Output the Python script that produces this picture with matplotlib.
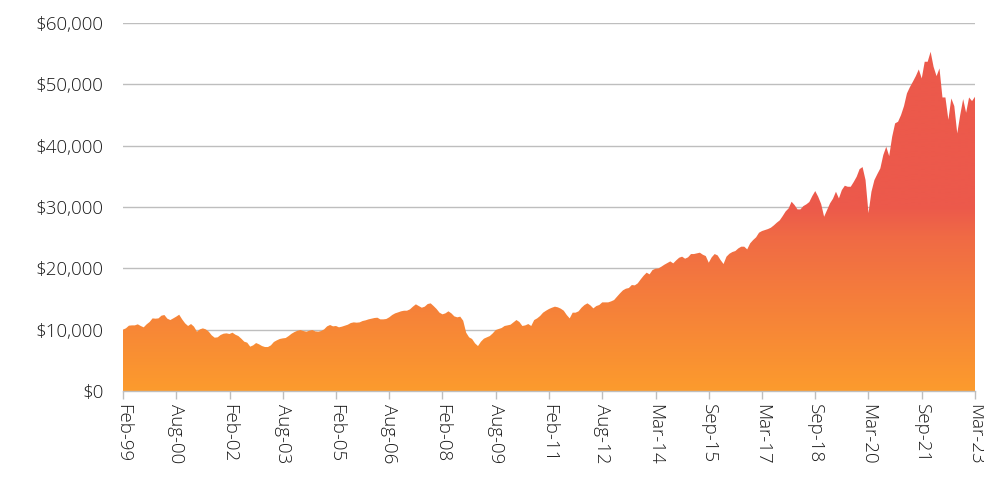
import numpy as np
import matplotlib
matplotlib.use("Agg")
import matplotlib.pyplot as plt
from matplotlib.colors import LinearSegmentedColormap

# ---- data (growth of $10,000, monthly, 289 points) ----
values = [
    10000, 10220, 10650, 10700, 10700, 10870, 10600, 10380, 10870, 11250,
    11840, 11790, 11840, 12280, 12390, 11790, 11570, 11840, 12120, 12440,
    11680, 11030, 10600, 10920, 10490, 9670, 10050, 10210, 10050, 9670,
    9070, 8690, 8750, 9130, 9340, 9400, 9290, 9510, 9180, 8960,
    8530, 8040, 7880, 7230, 7440, 7820, 7610, 7330, 7170, 7170,
    7440, 7990, 8260, 8480, 8580, 8640, 8960, 9340, 9620, 9830,
    9940, 9780, 9670, 9830, 9940, 9720, 9670, 9780, 10050, 10540,
    10760, 10540, 10600, 10380, 10490, 10650, 10810, 11080, 11190, 11140,
    11190, 11410, 11520, 11680, 11790, 11900, 11950, 11680, 11680, 11740,
    12010, 12390, 12660, 12820, 12990, 13090, 13090, 13310, 13750, 14130,
    13850, 13580, 13750, 14180, 14290, 13850, 13370, 12770, 12500, 12660,
    12990, 12660, 12170, 12010, 12120, 11460, 9510, 8750, 8480, 7770,
    7330, 8040, 8530, 8750, 8960, 9400, 9940, 10110, 10270, 10600,
    10700, 10810, 11190, 11570, 11250, 10600, 10700, 10920, 10600, 11570,
    11840, 12230, 12770, 13090, 13370, 13580, 13750, 13640, 13420, 13090,
    12390, 11840, 12770, 12770, 12990, 13580, 14020, 14290, 13960, 13470,
    13850, 14020, 14450, 14450, 14450, 14610, 14830, 15380, 15920, 16410,
    16680, 16790, 17280, 17220, 17550, 18200, 18800, 19290, 19020, 19720,
    19940, 19990, 20270, 20590, 20860, 21130, 20810, 21300, 21730, 21900,
    21570, 21790, 22330, 22330, 22440, 22550, 22220, 22000, 20920, 21790,
    22330, 22110, 21350, 20700, 21900, 22380, 22660, 22820, 23250, 23530,
    23530, 23090, 24070, 24610, 25050, 25810, 26080, 26240, 26400, 26620,
    27000, 27440, 27820, 28520, 29280, 29770, 30860, 30320, 29610, 29610,
    30150, 30430, 30810, 31780, 32600, 31670, 30480, 28410, 29500, 30590,
    31350, 32490, 31400, 32760, 33470, 33300, 33300, 34070, 34930, 36180,
    36510, 34390, 29000, 32490, 34390, 35370, 36290, 38470, 39820, 38300,
    41450, 43630, 43900, 44990, 46450, 48520, 49550, 50420, 51340, 52430,
    50960, 53680, 53680, 55310, 52860, 51340, 52590, 47860, 47860, 44230,
    47700, 46450, 42000, 44990, 47590, 45370, 47860, 47270, 47970,
]

tick_labels = ["Feb-99", "Aug-00", "Feb-02", "Aug-03", "Feb-05", "Aug-06",
               "Feb-08", "Aug-09", "Feb-11", "Aug-12", "Mar-14", "Sep-15",
               "Mar-17", "Sep-18", "Mar-20", "Sep-21", "Mar-23"]
tick_step = 18
y_ticks = [0, 10000, 20000, 30000, 40000, 50000, 60000]

# ---- figure ----
plt.rcParams['font.family'] = ['Open Sans', 'DejaVu Sans']
plt.rcParams['font.weight'] = 'light'
fig = plt.figure(figsize=(9.84, 4.82), dpi=100)
ax = fig.add_axes([123 / 984, 1 - 391 / 482, (975 - 123) / 984, (391 - 23) / 482])

x = np.arange(len(values))
y = np.array(values, dtype=float)

poly = ax.fill_between(x, 0, y, color='none', linewidth=0)

cmap = LinearSegmentedColormap.from_list(
    "grad", [(0.0, "#FC9B2D"), (0.42, "#F06A45"), (0.5, "#EC594B"), (1.0, "#EC594B")])
grad = np.linspace(0, 1, 512).reshape(-1, 1)
img = ax.imshow(grad, cmap=cmap, aspect='auto', origin='lower',
                extent=[0, len(values) - 1, 0, 60000], zorder=2)
path = poly.get_paths()[0]
img.set_clip_path(path, transform=ax.transData)

ax.set_xlim(0, len(values) - 1)
ax.set_ylim(0, 60000)

ax.set_yticks(y_ticks)
ax.set_yticklabels(["${:,.0f}".format(v) for v in y_ticks])
ax.yaxis.grid(True, color='#BEBEBE', linewidth=1.0, zorder=1)
ax.set_axisbelow(True)

ax.set_xticks([i * tick_step for i in range(len(tick_labels))])
ax.set_xticklabels(tick_labels, rotation=-90, ha='center', va='top')

for s in ['top', 'right', 'left']:
    ax.spines[s].set_visible(False)
ax.spines['bottom'].set_color('#BEBEBE')
ax.spines['bottom'].set_linewidth(1.0)
ax.spines['bottom'].set_zorder(3)

ax.tick_params(axis='y', length=0, pad=14, labelsize=13.5, labelcolor='#1A1A1A')
ax.tick_params(axis='x', length=6, width=1, color='#BEBEBE', pad=3,
               labelsize=13.5, labelcolor='#1A1A1A')

fig.savefig("out.png", dpi=100)
